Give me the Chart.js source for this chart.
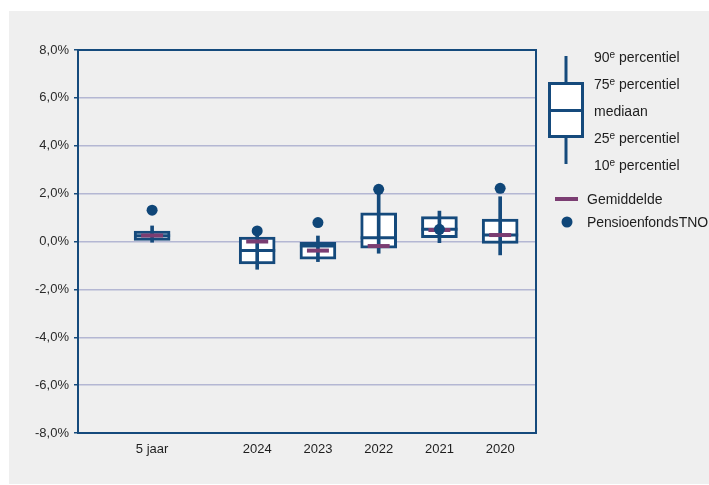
<!DOCTYPE html>
<html>
<head>
<meta charset="utf-8">
<script src="https://cdn.jsdelivr.net/npm/chart.js@4/dist/chart.umd.min.js"></script>
<style>
  html, body { margin: 0; padding: 0; background: #ffffff; }
  #wrap { position: relative; width: 709px; height: 485px; overflow: hidden; font-family: "Liberation Sans", Arial, sans-serif; }
  #panel { position: absolute; left: 9px; top: 11px; width: 700px; height: 473px; background: #efefef; }
  #c { position: absolute; left: 0; top: 0; }
  .lg { position: absolute; font-size: 14px; color: #1e1e1e; line-height: 16px; white-space: nowrap; }
  .lg sup { font-size: 10px; vertical-align: 4px; line-height: 0; }
</style>
</head>
<body>
<div id="wrap">
  <div id="panel"></div>
  <canvas id="c" width="709" height="485"></canvas>
  <svg style="position:absolute;left:0;top:0" width="709" height="485">
    <line x1="566" y1="56" x2="566" y2="164" stroke="#154a7c" stroke-width="3"/>
    <rect x="549.5" y="83.5" width="33" height="53" fill="#ffffff" stroke="#154a7c" stroke-width="3"/>
    <line x1="549" y1="110.5" x2="583" y2="110.5" stroke="#154a7c" stroke-width="3"/>
    <line x1="555" y1="199" x2="578" y2="199" stroke="#7b3d72" stroke-width="4"/>
    <circle cx="567" cy="222" r="5.5" fill="#0f4678"/>
  </svg>
  <div class="lg" style="left:594px;top:49px">90<sup>e</sup> percentiel</div>
  <div class="lg" style="left:594px;top:76px">75<sup>e</sup> percentiel</div>
  <div class="lg" style="left:594px;top:103px">mediaan</div>
  <div class="lg" style="left:594px;top:130px">25<sup>e</sup> percentiel</div>
  <div class="lg" style="left:594px;top:157px">10<sup>e</sup> percentiel</div>
  <div class="lg" style="left:587px;top:191px">Gemiddelde</div>
  <div class="lg" style="left:587px;top:214px;word-spacing:-3px;letter-spacing:-0.1px">Pensioenfonds TNO</div>
</div>
<script>
// ---- data (percentages) ----
const categories = ['5 jaar', '2024', '2023', '2022', '2021', '2020'];
const slots      = [-0.73, 1, 2, 3, 4, 5];           // category slot on the x axis
const p10        = [-0.03, -1.16, -0.84, -0.49, -0.05, -0.56];
const p25        = [0.05, -0.94, -0.74, -0.28, 0.16, -0.08];
const median     = [0.24, -0.38, -0.19, 0.16, 0.51, 0.27];
const p75        = [0.44, 0.18, -0.03, 1.20, 1.04, 0.94];
const p90        = [0.65, 0.35, 0.23, 2.00, 1.27, 1.87];
const mean       = [0.25, 0.00, -0.38, -0.19, 0.48, 0.27];
const tno        = [1.31, 0.44, 0.79, 2.18, 0.51, 2.22];

const BLUE = '#154a7c';
const DOT = '#0f4678';
const PURPLE = '#7b3d72';
const GRID = '#b4b7d3';

const boxData = slots.map((x, i) => ({ x, y: [p25[i], p75[i]] }));
const whiskerData = slots.map((x, i) => ({ x, y: [p10[i], p90[i]] }));
const medianData = slots.map((x, i) => ({ x, y: median[i] }));
const meanData = slots.map((x, i) => ({ x, y: mean[i] }));
const tnoData = slots.map((x, i) => ({ x, y: tno[i] }));

const frame = {
  id: 'frame',
  beforeDatasetsDraw(chart) {
    const a = chart.chartArea, ctx = chart.ctx;
    ctx.save();
    ctx.strokeStyle = BLUE;
    ctx.lineWidth = 2;
    ctx.beginPath();
    ctx.moveTo(a.left, a.top);
    ctx.lineTo(a.right, a.top);
    ctx.lineTo(a.right, a.bottom);
    ctx.stroke();
    ctx.restore();
  }
};

new Chart(document.getElementById('c'), {
  type: 'bar',
  data: {
    datasets: [
      { type: 'line', label: 'Pensioenfonds TNO', data: tnoData, showLine: false,
        pointStyle: 'circle', pointRadius: 5.5, pointHoverRadius: 5.5,
        pointBackgroundColor: DOT, pointBorderWidth: 0, order: 0 },
      { type: 'line', label: 'Gemiddelde', data: meanData, showLine: false,
        pointStyle: 'line', pointRadius: 11, pointHoverRadius: 11,
        pointBorderColor: PURPLE, pointBorderWidth: 4, order: 1 },
      { type: 'line', label: 'mediaan', data: medianData, showLine: false,
        pointStyle: 'line', pointRadius: 18, pointHoverRadius: 18,
        pointBorderColor: BLUE, pointBorderWidth: 3, order: 2 },
      { type: 'bar', label: 'whisker', data: whiskerData, barThickness: 3,
        backgroundColor: BLUE, borderWidth: 0, grouped: false, order: 3 },
      { type: 'bar', label: 'box', data: boxData, barThickness: 36,
        backgroundColor: '#ffffff', borderColor: BLUE, borderWidth: 3,
        borderSkipped: false, grouped: false, order: 4 }
    ]
  },
  options: {
    responsive: false,
    animation: false,
    events: [],
    devicePixelRatio: 1,
    layout: { padding: { left: 0, top: 50, right: 173, bottom: 0 } },
    plugins: { legend: { display: false }, tooltip: { enabled: false } },
    scales: {
      x: {
        type: 'linear',
        min: -1.95,
        max: 5.59,
        offset: false,
        afterFit(scale) { scale.height = 52; },
        afterBuildTicks(scale) { scale.ticks = slots.map(v => ({ value: v })); },
        grid: { display: false, drawTicks: false, offset: false },
        border: { display: true, color: BLUE, width: 2 },
        ticks: {
          autoSkip: false, maxRotation: 0, padding: 9,
          color: '#1e1e1e', font: { family: '"Liberation Sans", Arial, sans-serif', size: 13 },
          callback: (v, i) => categories[i]
        }
      },
      y: {
        min: -8,
        max: 8,
        afterFit(scale) { scale.width = 78; },
        grid: {
          color: GRID, lineWidth: 1.5, tickColor: BLUE, tickLength: 4, drawTicks: true
        },
        border: { display: true, color: BLUE, width: 2 },
        ticks: {
          stepSize: 2, padding: 5, color: '#2a2a2a',
          font: { family: '"Liberation Sans", Arial, sans-serif', size: 13 },
          callback: v => v.toFixed(1).replace('.', ',') + '%'
        }
      }
    }
  },
  plugins: [frame]
});
</script>
</body>
</html>
